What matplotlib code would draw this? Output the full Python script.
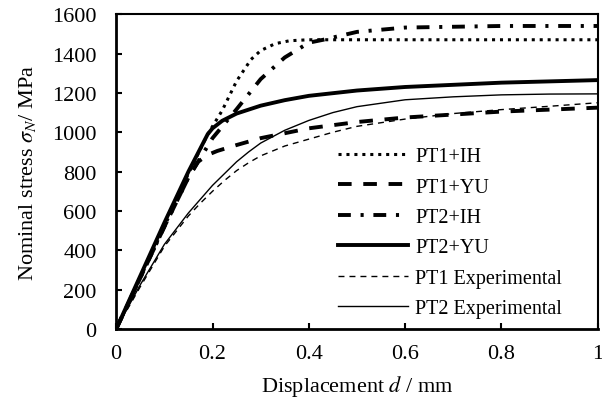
import matplotlib.pyplot as plt

plt.rcParams['font.family'] = ['Liberation Serif', 'DejaVu Serif']
plt.rcParams['mathtext.fontset'] = 'stix'

# data
x_pt1_ih = [0, 0.05, 0.1, 0.15, 0.19, 0.22, 0.25, 0.28, 0.3, 0.33, 0.36, 0.4, 0.45, 0.6, 0.8, 1.0]
y_pt1_ih = [0, 260, 520, 790, 990, 1110, 1260, 1370, 1415, 1450, 1465, 1470, 1470, 1470, 1470, 1470]

x_pt1_yu = [0, 0.05, 0.1, 0.15, 0.17, 0.19, 0.21, 0.25, 0.3, 0.4, 0.5, 0.6, 0.8, 1.0]
y_pt1_yu = [0, 260, 520, 770, 850, 885, 905, 935, 970, 1020, 1052, 1075, 1105, 1125]

x_pt2_ih = [0, 0.05, 0.1, 0.15, 0.2, 0.25, 0.3, 0.35, 0.4, 0.43, 0.5, 0.6, 0.8, 1.0]
y_pt2_ih = [0, 260, 520, 770, 970, 1117, 1270, 1380, 1455, 1470, 1510, 1532, 1540, 1540]

x_pt2_yu = [0, 0.05, 0.1, 0.15, 0.19, 0.2, 0.22, 0.25, 0.3, 0.35, 0.4, 0.5, 0.6, 0.8, 1.0]
y_pt2_yu = [0, 270, 540, 800, 990, 1020, 1058, 1095, 1135, 1163, 1185, 1212, 1230, 1252, 1265]

x_exp = [0, 0.05, 0.1, 0.15, 0.175, 0.2, 0.225, 0.25, 0.275, 0.3, 0.35, 0.4, 0.45, 0.5,
         0.6, 0.7, 0.8, 0.9, 1.0]
y_pt1_exp = [0, 215, 420, 575, 640, 700, 755, 805, 845, 880, 930, 965, 1000, 1030,
             1067, 1095, 1115, 1132, 1150]
y_pt2_exp = [0, 225, 430, 590, 660, 730, 790, 850, 900, 945, 1010, 1060, 1100, 1130,
             1165, 1180, 1190, 1194, 1195]

fig = plt.figure(figsize=(6.02, 4.10), dpi=100)
ax = fig.add_axes([0.193, 0.195, 0.8, 0.768])

ax.plot(x_pt1_ih, y_pt1_ih, color='black', lw=2.2, ls=(0, (1, 1.6)), label='PT1+IH')
ax.plot(x_pt1_yu, y_pt1_yu, color='black', lw=2.8, ls=(0, (3.5, 3)), label='PT1+YU')
ax.plot(x_pt2_ih, y_pt2_ih, color='black', lw=2.8, ls=(0, (3.3, 2.5, 0.8, 2.5)), label='PT2+IH')
ax.plot(x_pt2_yu, y_pt2_yu, color='black', lw=2.8, label='PT2+YU')
ax.plot(x_exp, y_pt1_exp, color='black', lw=1, ls=(0, (4.3, 3.6)), label='PT1 Experimental')
ax.plot(x_exp, y_pt2_exp, color='black', lw=1, label='PT2 Experimental')

ax.set_xlim(0, 1)
ax.set_ylim(0, 1600)
ax.set_xticks([0, 0.2, 0.4, 0.6, 0.8, 1.0])
ax.set_xticklabels(['0', '0.2', '0.4', '0.6', '0.8', '1'])
ax.set_yticks(range(0, 1601, 200))
ax.tick_params(direction='in', length=4, width=1.5, labelsize=16)
ax.tick_params(axis='y', pad=14)
ax.tick_params(axis='x', pad=11)

for side in ['left', 'bottom']:
    ax.spines[side].set_linewidth(2)
for side in ['top', 'right']:
    ax.spines[side].set_linewidth(1.5)

ax.set_xlabel('Displacement $d$ / mm', fontsize=16, labelpad=7)
ax.set_ylabel(r'Nominal stress $\sigma_N$/ MPa', fontsize=16, labelpad=10)

ax.legend(loc='upper left', bbox_to_anchor=(0.46, 0.578), frameon=False, fontsize=14.5,
          handlelength=3.5, handletextpad=0.35, labelspacing=0.56, borderpad=0,
          borderaxespad=0)

fig.savefig('out.png', dpi=100)
